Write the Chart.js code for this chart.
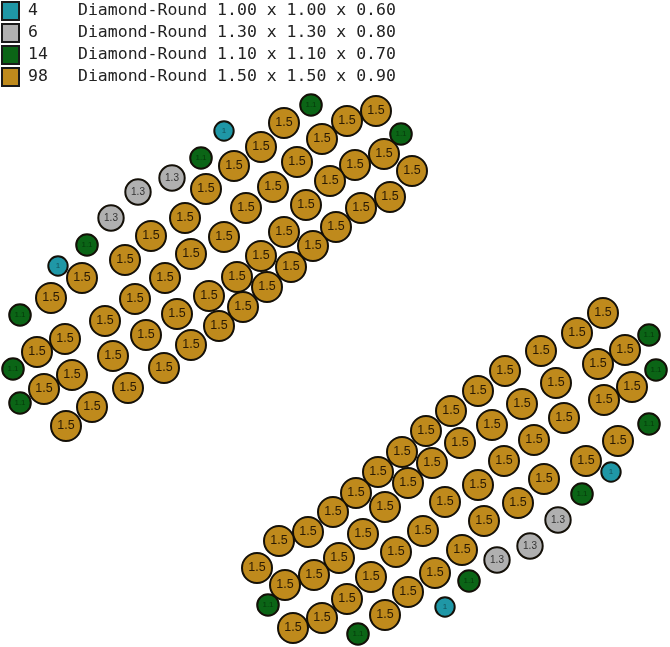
<!DOCTYPE html>
<html>
<head>
<meta charset="utf-8">
<title>Diamond-Round layout</title>
<script src="https://cdn.jsdelivr.net/npm/chart.js@4"></script>
<style>
    html, body { margin: 0; padding: 0; background: #fff; }
    #wrap { position: relative; width: 670px; height: 647px; overflow: hidden; }
    #chart { position: absolute; left: 0; top: 0; }
    .row { position: absolute; left: 0; height: 22px; font: 16.5px/18px "DejaVu Sans Mono", monospace; color: #222; white-space: pre; }
    .box { position: absolute; left: 1px; top: 1px; width: 15px; height: 16px; border: 2px solid #1a1a1a; }
    .count { position: absolute; left: 28px; top: 1px; }
    .desc { position: absolute; left: 78px; top: 1px; }
</style>
</head>
<body>
<div id="wrap">
    <canvas id="chart" width="670" height="647"></canvas>
    <div id="legend"></div>
</div>
<script>
// Legend rows
const counts = [4, 6, 14, 98];
const descriptions = [
    'Diamond-Round 1.00 x 1.00 x 0.60',
    'Diamond-Round 1.30 x 1.30 x 0.80',
    'Diamond-Round 1.10 x 1.10 x 0.70',
    'Diamond-Round 1.50 x 1.50 x 0.90'
];
const colors = ['#1f97a6', '#b0b0b0', '#0b6516', '#bf8a1c'];
const stoneLabels = ['1', '1.3', '1.1', '1.5'];

// Stone centres (y runs downward)
const tealX = [224, 58, 445, 611];
const tealY = [131, 266, 607, 472];

const grayX = [111, 138, 172, 497, 530, 558];
const grayY = [218, 192, 178, 560, 546, 520];

const greenX = [201, 87, 20, 13, 20, 311, 401, 268, 358, 469, 582, 649, 656, 649];
const greenY = [158, 245, 315, 369, 403, 105, 134, 605, 634, 581, 494, 424, 370, 335];

const goldX = [
    206, 185, 151, 125, 191, 165, 82, 51, 135, 209, 105, 65, 37, 146, 177, 191, 113,
    72, 44, 128, 164, 92, 66, 219, 284, 261, 234, 322, 347, 376, 297, 273, 246, 224,
    384, 355, 330, 306, 284, 261, 237, 267, 291, 313, 336, 361, 390, 412, 243,
    402, 426, 432, 378, 408, 356, 385, 333, 308, 279, 257, 363, 423, 445, 339, 314,
    285, 396, 371, 435, 347, 408, 322, 293, 385, 478, 451, 460, 492, 522, 478, 504,
    534, 484, 462, 518, 544, 505, 556, 541, 577, 603, 625, 598, 632, 604, 618, 586, 564
];
const goldY = [
    189, 218, 236, 260, 254, 278, 278, 298, 299, 296, 321, 339, 352, 335, 314, 345, 356,
    375, 389, 388, 368, 407, 426, 326, 123, 147, 166, 139, 121, 111, 162, 187, 208, 237,
    154, 165, 181, 205, 232, 256, 277, 287, 267, 246, 227, 208, 197, 171, 307,
    452, 431, 463, 472, 483, 493, 507, 512, 532, 541, 568, 534, 531, 502, 558, 575,
    585, 552, 577, 573, 599, 592, 618, 628, 615, 391, 411, 443, 425, 404, 485, 461,
    440, 521, 550, 503, 479, 371, 383, 351, 333, 313, 350, 364, 387, 400, 441, 461, 418
];

const xValues = [tealX, grayX, greenX, goldX];
const yValues = [tealY, grayY, greenY, goldY];
const radii = [9.7, 12.7, 10.8, 15];
const labelFonts = [8, 10, 8, 12.5];
const labelColors = ['#14505a', '#333333', '#063a0c', '#2a1a04'];

// Build the legend on top of the canvas
const legend = document.getElementById('legend');
counts.forEach((count, i) => {
    const row = document.createElement('div');
    row.className = 'row';
    row.style.top = (i * 22) + 'px';

    const box = document.createElement('div');
    box.className = 'box';
    box.style.background = colors[i];
    row.appendChild(box);

    const num = document.createElement('span');
    num.className = 'count';
    num.textContent = count;
    row.appendChild(num);

    const desc = document.createElement('span');
    desc.className = 'desc';
    desc.textContent = descriptions[i];
    row.appendChild(desc);

    legend.appendChild(row);
});

// Writes the size in the middle of every stone
const stoneLabelPlugin = {
    id: 'stoneLabels',
    afterDatasetsDraw(chart) {
        const ctx = chart.ctx;
        ctx.save();
        ctx.textAlign = 'center';
        ctx.textBaseline = 'middle';
        chart.data.datasets.forEach((dataset, i) => {
            ctx.font = labelFonts[i] + 'px "Liberation Sans", Arial, sans-serif';
            ctx.fillStyle = labelColors[i];
            chart.getDatasetMeta(i).data.forEach(point => {
                ctx.fillText(stoneLabels[i], point.x, point.y);
            });
        });
        ctx.restore();
    }
};

new Chart(document.getElementById('chart').getContext('2d'), {
    type: 'scatter',
    data: {
        datasets: colors.map((color, i) => ({
            label: descriptions[i],
            data: xValues[i].map((x, j) => ({ x: x, y: yValues[i][j] })),
            backgroundColor: color,
            borderColor: '#141008',
            borderWidth: 2,
            pointRadius: radii[i],
            pointHoverRadius: radii[i],
            clip: false
        }))
    },
    options: {
        responsive: false,
        animation: false,
        devicePixelRatio: 1,
        layout: { padding: 0, autoPadding: false },
        plugins: {
            legend: { display: false },
            tooltip: { enabled: false }
        },
        scales: {
            x: { type: 'linear', min: 0, max: 670, display: false },
            y: { type: 'linear', min: 0, max: 647, reverse: true, display: false }
        }
    },
    plugins: [stoneLabelPlugin]
});
</script>
</body>
</html>
